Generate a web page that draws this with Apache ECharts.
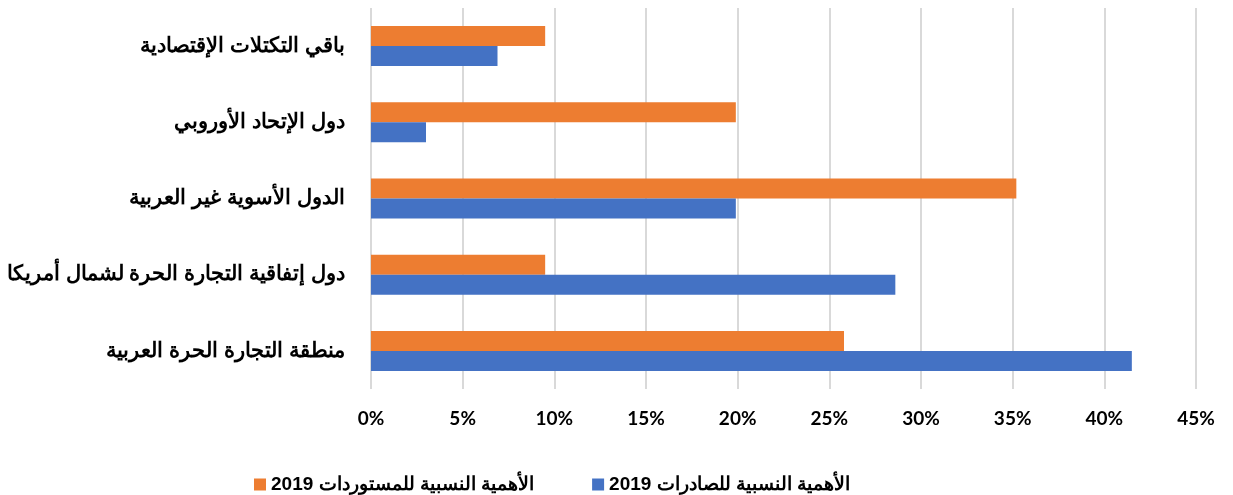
<!DOCTYPE html>
<html>
<head>
<meta charset="utf-8">
<script src="https://cdn.jsdelivr.net/npm/echarts@6/dist/echarts.min.js"></script>
<style>
  html, body { margin: 0; padding: 0; background: #fff; }
  #chart { width: 1233px; height: 495px; }
</style>
</head>
<body>
<div id="chart"></div>
<script>
// الفئات من الأسفل إلى الأعلى
const categories = [
  "منطقة التجارة الحرة العربية",
  "دول إتفاقية التجارة الحرة لشمال أمريكا",
  "الدول الأسوية غير العربية",
  "دول الإتحاد الأوروبي",
  "باقي التكتلات الإقتصادية",
];
const exportsShare = [41.5, 28.6, 19.9, 3.0, 6.9];
const importsShare = [25.8, 9.5, 35.2, 19.9, 9.5];
const exportsName = "2019 الأهمية النسبية للصادرات";
const importsName = "2019 الأهمية النسبية للمستوردات";
const xTicks = [0, 45, 5]; // min, max, interval

const font = "Liberation Sans";
const chart = echarts.init(document.getElementById("chart"));

const option = {
  animation: false,
  textStyle: { fontFamily: font },
  grid: {
    left: 371,
    right: 37,
    top: 8,
    bottom: 106,
  },
  legend: {
    data: [importsName, exportsName],
    left: 249,
    top: 470,
    itemWidth: 12,
    itemHeight: 12,
    itemGap: 58,
    icon: "rect",
    textStyle: {
      fontFamily: font,
      fontWeight: "bold",
      fontSize: 19,
      color: "#000",
    },
  },
  xAxis: {
    type: "value",
    min: xTicks[0],
    max: xTicks[1],
    interval: xTicks[2],
    axisLine: { show: false },
    axisTick: { show: false },
    axisLabel: {
      formatter: "{value}%",
      margin: 20,
      fontFamily: "Lato",
      fontWeight: "bold",
      fontSize: 19,
      color: "#000",
    },
    splitLine: {
      lineStyle: { color: "#d9d9d9", width: 2 },
    },
  },
  yAxis: {
    type: "category",
    data: categories,
    axisLine: { show: false },
    axisTick: { show: false },
    axisLabel: {
      margin: 26,
      fontFamily: font,
      fontWeight: "bold",
      fontSize: 21,
      color: "#000",
    },
  },
  series: [
    {
      name: importsName,
      type: "bar",
      data: importsShare,
      barWidth: 20,
      barGap: "0%",
      itemStyle: { color: "#ed7d31" },
    },
    {
      name: exportsName,
      type: "bar",
      data: exportsShare,
      barWidth: 20,
      barGap: "0%",
      itemStyle: { color: "#4472c4" },
    },
  ],
};

chart.setOption(option);
window.addEventListener("resize", () => chart.resize());
</script>
</body>
</html>
